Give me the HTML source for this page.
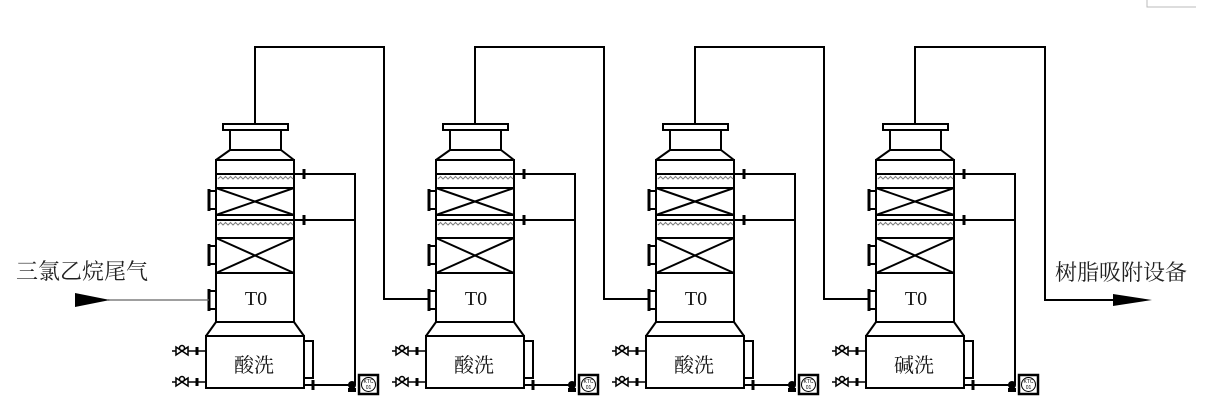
<!DOCTYPE html>
<html>
<head>
<meta charset="utf-8">
<style>
html,body{margin:0;padding:0;background:#fff;}
svg{display:block;}
.t{font-family:"Liberation Serif","Noto Serif CJK SC",serif;}
.s{font-family:"Liberation Sans","Noto Serif CJK SC",serif;}
</style>
</head>
<body>
<svg width="1205" height="404" viewBox="0 0 1205 404" xmlns="http://www.w3.org/2000/svg">
<defs>
  <g id="col" fill="none" stroke="#000" stroke-width="2">
    <rect x="223" y="124" width="65" height="6" fill="#fff"/>
    <path d="M230,130 V150 M281,130 V150 M230,150 H281"/>
    <path d="M230,150 L216,160 M281,150 L294,160"/>
    <rect x="216" y="160" width="78" height="162"/>
    <path d="M216,174 H294"/>
    <rect x="216" y="188" width="78" height="27"/>
    <path d="M216,188 L294,215 M294,188 L216,215"/>
    <path d="M216,220 H294"/>
    <rect x="216" y="238" width="78" height="35"/>
    <path d="M216,238 L294,273 M294,238 L216,273"/>
    <path d="M216,322 L206,336 M294,322 L304,336"/>
    <rect x="206" y="336" width="98" height="52"/>
    <path d="M304,341 H313 V378 H304"/>
    <path d="M210,191 H216 M210,209 H216"/>
    <path d="M209,189 V211" stroke-width="3"/>
    <path d="M210,246 H216 M210,264 H216"/>
    <path d="M209,244 V266" stroke-width="3"/>
    <path d="M210,291 H216 M210,309 H216"/>
    <path d="M209,289 V311" stroke-width="3"/>
    <path d="M294,174 H355 V385 M294,220 H355"/>
    <path d="M304,169 V179 M304,215 V225" stroke-width="3"/>
    <path d="M304,385 H352"/>
    <path d="M313,380 V390" stroke-width="3"/>
    <circle cx="352" cy="385" r="4" fill="#000" stroke="none"/>
    <rect x="348" y="388" width="8" height="4" fill="#000" stroke="none"/>
    <rect x="359" y="375" width="19" height="19" fill="#fff" stroke-width="2.5"/>
    <circle cx="368.5" cy="384.5" r="7" stroke-width="1"/>
    <path d="M172,351 H206 M172,382 H206" stroke-width="1.5"/>
    <path d="M197,347 V355 M197,378 V386" stroke-width="3"/>
    <g stroke-width="1.5" fill="#fff">
      <polygon points="176,347 182,351 176,355"/>
      <polygon points="188,347 182,351 188,355"/>
      <circle cx="182" cy="348" r="2.5"/>
      <polygon points="176,378 182,382 176,386"/>
      <polygon points="188,378 182,382 188,386"/>
      <circle cx="182" cy="379" r="2.5"/>
    </g>
  </g>
  <g id="wave" fill="none" stroke="#808080" stroke-width="1.1">
    <path d="M218,179 l2.5,-2.5 l2.5,2.5 l2.5,-2.5 l2.5,2.5 l2.5,-2.5 l2.5,2.5 l2.5,-2.5 l2.5,2.5 l2.5,-2.5 l2.5,2.5 l2.5,-2.5 l2.5,2.5 l2.5,-2.5 l2.5,2.5 l2.5,-2.5 l2.5,2.5 l2.5,-2.5 l2.5,2.5 l2.5,-2.5 l2.5,2.5 l2.5,-2.5 l2.5,2.5 l2.5,-2.5 l2.5,2.5 l2.5,-2.5 l2.5,2.5 l2.5,-2.5 l2.5,2.5 l2.5,-2.5 l2.5,2.5"/>
    <path d="M218,225 l2.5,-2.5 l2.5,2.5 l2.5,-2.5 l2.5,2.5 l2.5,-2.5 l2.5,2.5 l2.5,-2.5 l2.5,2.5 l2.5,-2.5 l2.5,2.5 l2.5,-2.5 l2.5,2.5 l2.5,-2.5 l2.5,2.5 l2.5,-2.5 l2.5,2.5 l2.5,-2.5 l2.5,2.5 l2.5,-2.5 l2.5,2.5 l2.5,-2.5 l2.5,2.5 l2.5,-2.5 l2.5,2.5 l2.5,-2.5 l2.5,2.5 l2.5,-2.5 l2.5,2.5 l2.5,-2.5 l2.5,2.5"/>
  </g>
</defs>

<path d="M1147,0 V7 H1196" fill="none" stroke="#bbb" stroke-width="1"/>

<use href="#col" x="0"/>
<use href="#col" x="220"/>
<use href="#col" x="440"/>
<use href="#col" x="660"/>
<use href="#wave" x="0"/>
<use href="#wave" x="220"/>
<use href="#wave" x="440"/>
<use href="#wave" x="660"/>

<g fill="none" stroke="#000" stroke-width="2">
  <path d="M255,124 V47 H384 V299 H428"/>
  <path d="M475,124 V47 H604 V299 H648"/>
  <path d="M695,124 V47 H824 V299 H868"/>
  <path d="M915,124 V47 H1045 V300 H1115"/>
</g>
<polygon points="1113,294 1152,300 1113,306" fill="#000"/>

<path d="M108,300 H209" stroke="#666" stroke-width="1.2" fill="none"/>
<polygon points="75,293 110,300 75,307" fill="#000"/>

<text class="s" x="16" y="279" font-size="22" fill="#222">三氯乙烷尾气</text>
<text class="s" x="1055" y="280" font-size="22" fill="#222">树脂吸附设备</text>

<g class="t" font-size="20" fill="#111" text-anchor="middle">
  <text x="256" y="305">T0</text>
  <text x="476" y="305">T0</text>
  <text x="696" y="305">T0</text>
  <text x="916" y="305">T0</text>
  <text x="254" y="372">酸洗</text>
  <text x="474" y="372">酸洗</text>
  <text x="694" y="372">酸洗</text>
  <text x="914" y="372">碱洗</text>
</g>

<g font-family="Liberation Sans, sans-serif" font-size="5" fill="#000" text-anchor="middle">
  <text x="368.5" y="383">KTC</text><text x="368.5" y="389">01</text>
  <text x="588.5" y="383">KTC</text><text x="588.5" y="389">01</text>
  <text x="808.5" y="383">KTC</text><text x="808.5" y="389">01</text>
  <text x="1028.5" y="383">KTC</text><text x="1028.5" y="389">01</text>
</g>
</svg>
</body>
</html>
